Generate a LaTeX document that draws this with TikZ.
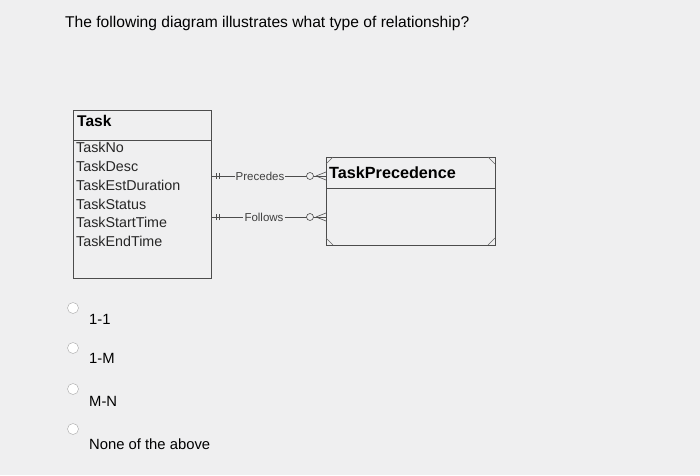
\documentclass[tikz,border=0pt]{standalone}
\usepackage{fontspec}
\setmainfont{Liberation Sans}
\begin{document}
\begin{tikzpicture}[x=1pt,y=-1pt,
  attr/.style={anchor=west,inner sep=0pt,font=\fontsize{14.3}{14}\selectfont,text=black!85},
  opt/.style={anchor=west,inner sep=0pt,font=\fontsize{14.8}{14}\selectfont},
  radio/.style={circle,draw=black!35,fill=white,minimum size=11pt,inner sep=0pt},
  rel/.style={inner sep=1pt,font=\fontsize{11.5}{11}\selectfont,text=black!75},
  ln/.style={draw=black!70,line width=0.6pt}]
\fill[blue!3!gray!12] (0,0) rectangle (700,475);
\useasboundingbox (0,0) rectangle (700,475);
\node[anchor=west,inner sep=0pt,font=\fontsize{15.6}{15}\selectfont] (q) at (65,23) {The following diagram illustrates what type of relationship?};
% Task entity
\node[draw=black!70,line width=0.7pt,minimum width=138pt,minimum height=168pt,inner sep=0pt] (task) at (142,194) {};
\draw[ln] (73,140) -- (211,140);
\node[anchor=west,inner sep=0pt,font=\bfseries\fontsize{15.5}{15}\selectfont] (tt) at (77,121) {Task};
\node[attr] (a1) at (76,147) {TaskNo};
\node[attr] (a2) at (76,166) {TaskDesc};
\node[attr] (a3) at (76,185) {TaskEstDuration};
\node[attr] (a4) at (76,204) {TaskStatus};
\node[attr] (a5) at (76,222) {TaskStartTime};
\node[attr] (a6) at (76,241) {TaskEndTime};
% TaskPrecedence
\node[draw=black!70,line width=0.7pt,minimum width=169pt,minimum height=88pt,inner sep=0pt] (tp) at (410.5,201) {};
\draw[ln] (326,188) -- (495,188);
\node[anchor=west,inner sep=0pt,font=\bfseries\fontsize{16.2}{16}\selectfont] (tpt) at (329,173) {TaskPrecedence};
\draw[black!60,line width=0.4pt] (488,157)--(495,164) (326,164)--(333,157) (326,238)--(333,245) (488,245)--(495,238);
% relations
\coordinate (p0) at (211,176); \coordinate (p1) at (326,176);
\coordinate (f0) at (211,217); \coordinate (f1) at (326,217);
\node[rel,fill=blue!3!gray!12] (prec) at (260,176) {Precedes};
\node[rel,fill=blue!3!gray!12] (fol) at (264,217) {Follows};
\draw[ln] (p0) -- (prec) -- (p1);
\draw[ln] (f0) -- (fol) -- (f1);
\foreach \c in {p,f}{
  \draw[ln] ([xshift=5pt,yshift=-3pt]\c0) -- ([xshift=5pt,yshift=3pt]\c0)
            ([xshift=8pt,yshift=-3pt]\c0) -- ([xshift=8pt,yshift=3pt]\c0);
  \draw[ln,fill=blue!3!gray!12] ([xshift=-16pt]\c1) circle (3.5pt);
  \draw[ln] ([xshift=-10pt]\c1) -- ([yshift=-4pt]\c1) ([xshift=-10pt]\c1) -- ([yshift=4pt]\c1);
}
% options
\node[radio] (r1) at (73,308) {};
\node[radio] (r2) at (73,348) {};
\node[radio] (r3) at (73,389) {};
\node[radio] (r4) at (73,429) {};
\node[opt] (o1) at (89,319) {1-1};
\node[opt] (o2) at (89,358) {1-M};
\node[opt] (o3) at (89,401) {M-N};
\node[opt] (o4) at (89,444) {None of the above};
\end{tikzpicture}
\end{document}
